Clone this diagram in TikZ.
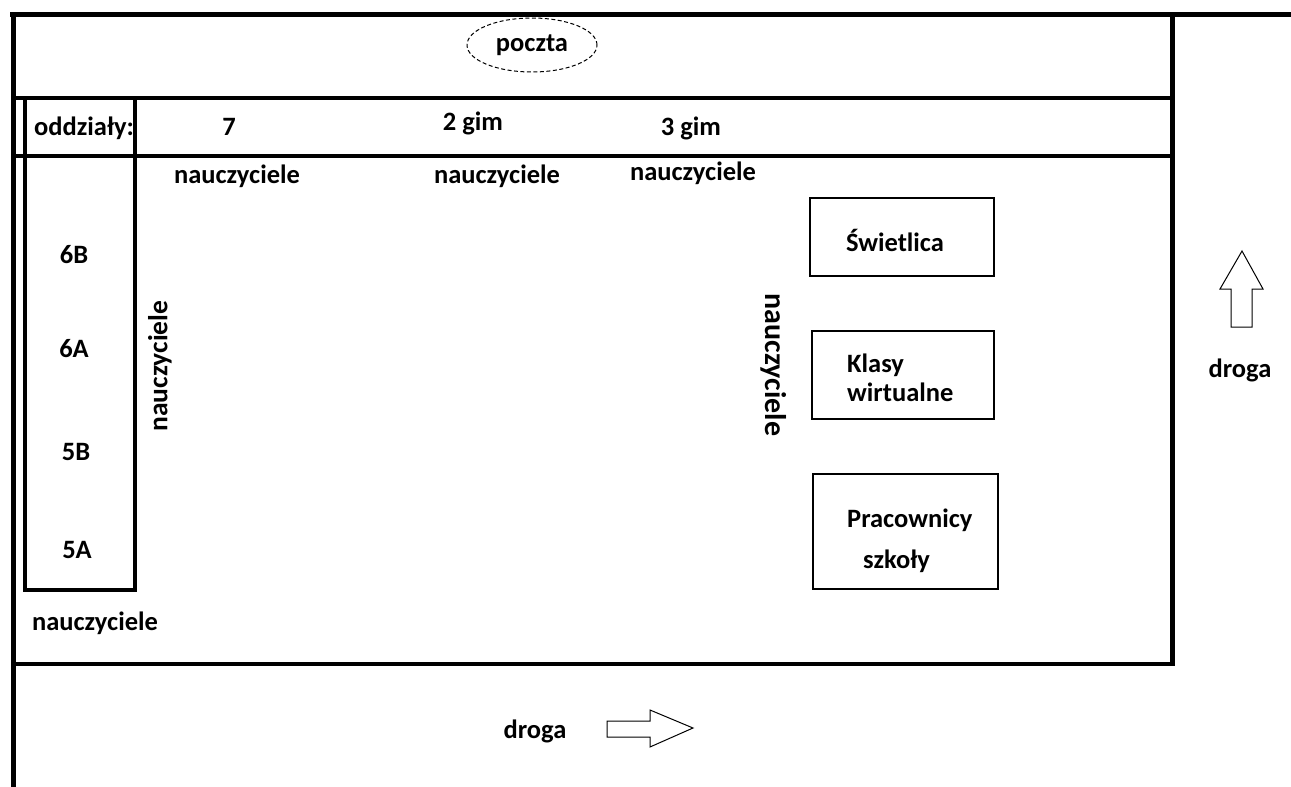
\documentclass[tikz,border=0pt]{standalone}
\usepackage{fontspec}
\setmainfont{Carlito}
\usetikzlibrary{shapes.geometric}
\newcommand\plfont{\fontsize{26.5}{29}\selectfont\bfseries}
\newcommand\plfontL{\fontsize{27.5}{30}\selectfont\bfseries}
\newcommand\plfontR{\fontsize{30}{33}\selectfont\bfseries}
\tikzset{
  wall/.style={line width=5pt},
  midwall/.style={line width=4pt},
  lbl/.style={font=\plfont, inner sep=0pt, anchor=base, text=black},
  lblw/.style={lbl, anchor=base west},
  roombox/.style={draw, line width=2pt, inner sep=0pt, rectangle},
  blockarrow/.style={draw, line width=1pt, fill=white, line join=miter}
}
\begin{document}
\begin{tikzpicture}[x=1pt,y=-1pt]
\useasboundingbox (0,0) rectangle (1291,787);
\fill[white] (0,0) rectangle (1291,787);

% text drawn first so the class box line overlaps "oddziały:"
\node[lblw] (oddz) at (34,135) {oddziały:};

% walls
\draw[wall] (13.5,787) -- (13.5,14.5);
\draw[wall] (10,14.5) -- (1291,14.5);
\draw[wall] (1172,14.5) -- (1172,665.5);
\draw[midwall] (13.5,97.5) -- (1172,97.5);
\draw[midwall] (13.5,155.5) -- (1172,155.5);
\draw[midwall] (13.5,663.5) -- (1172,663.5);

% class column box
\draw[line width=4pt] (25,97.5) rectangle (135,590);

% post office
\node[ellipse, draw, dashed, dash pattern=on 4pt off 2.5pt, line width=1pt,
      minimum width=130pt, minimum height=54pt, inner sep=0pt, font=\plfont]
      (poczta) at (532,45) {poczta};

% grade labels
\node[lbl] (g7) at (229,135) {7};
\node[lbl] (g2gim) at (473,130) {2 gim};
\node[lbl] (g3gim) at (691,135) {3\ gim};

% teachers
\node[lbl] (n1) at (237,183) {nauczyciele};
\node[lbl] (n2) at (497,183) {nauczyciele};
\node[lbl] (n3) at (693,180) {nauczyciele};
\node[lbl] (n4) at (95,630) {nauczyciele};
\node[font=\plfontL, inner sep=0pt, rotate=90] (nleft) at (160,366) {nauczyciele};
\node[font=\plfontR, inner sep=0pt, rotate=-90] (nright) at (774,365) {nauczyciele};

% classes
\node[lbl] (c6b) at (74,263) {6B};
\node[lbl] (c6a) at (74,357) {6A};
\node[lbl] (c5b) at (76,460) {5B};
\node[lbl] (c5a) at (77,558) {5A};

% rooms
\node[roombox, minimum width=184pt, minimum height=78pt] (swbox) at (902,237) {};
\node[lbl] (sw) at (895,251) {Świetlica};
\node[roombox, minimum width=182pt, minimum height=88pt] (klbox) at (903,375) {};
\node[lblw] (kl1) at (847,372) {Klasy};
\node[lblw] (kl2) at (847,401) {wirtualne};
\node[roombox, minimum width=185pt, minimum height=115pt] (prbox) at (905.5,531.5) {};
\node[lblw] (pr1) at (847,527) {Pracownicy};
\node[lblw] (pr2) at (863,568) {szkoły};

% roads
\node[lbl] (drogaB) at (535,738) {droga};
\draw[blockarrow] (607,721) -- (650,721) -- (650,710) -- (693,728) -- (650,747) -- (650,737) -- (607,737) -- cycle;
\node[lbl] (drogaR) at (1240,377) {droga};
\draw[blockarrow] (1231,327) -- (1231,289) -- (1220,289) -- (1242,251) -- (1263,289) -- (1252,289) -- (1252,327) -- cycle;
\end{tikzpicture}
\end{document}
